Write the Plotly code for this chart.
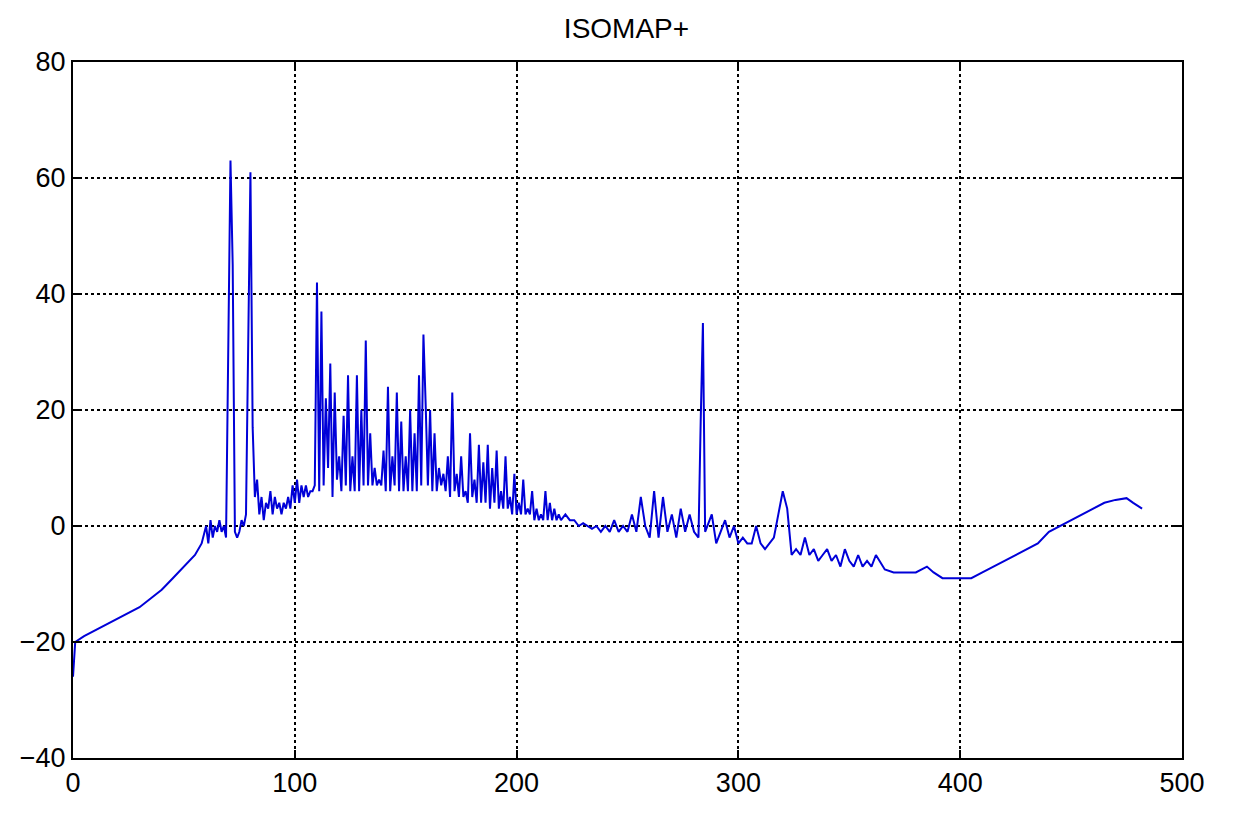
import plotly.graph_objects as go

xs = [0, 1, 5, 10, 15, 20, 25, 30, 35, 40, 45, 50, 55, 58,
      60, 61, 62, 63, 64, 65, 66, 67, 68, 69, 70, 71, 72, 73, 74, 75, 76, 77, 78, 79,
      80, 81, 82, 83, 84, 85, 86, 87, 88, 89, 90,
      91, 92, 93, 94, 95, 96, 97, 98, 99, 100, 101, 102, 103, 104, 105, 106, 107, 108, 109,
      110, 111, 112, 113, 114, 115, 116, 117, 118, 119,
      120, 121, 122, 123, 124, 125, 126, 127, 128, 129, 130, 131, 132, 133, 134, 135, 136, 137, 138, 139,
      140, 141, 142, 143, 144, 145, 146, 147, 148, 149, 150, 151, 152, 153, 154, 155, 156, 157, 158, 159,
      160, 161, 162, 163, 164, 165, 166, 167, 168, 169, 170, 171, 172, 173, 174, 175, 176, 177, 178, 179,
      180, 181, 182, 183, 184, 185, 186, 187, 188, 189, 190, 191, 192, 193, 194, 195, 196, 197, 198, 199,
      200, 201, 202, 203, 204, 205, 206, 207, 208, 209, 210, 211, 212, 213, 214, 215, 216, 217, 218, 219,
      220, 222, 224, 226, 228, 230, 232, 234, 236, 238, 240, 242, 244, 246, 248, 250, 252, 254, 256, 258,
      260, 262, 264, 266, 268, 270, 272, 274, 276, 278, 280, 282, 283, 284, 285, 286, 288, 290, 292, 294,
      296, 298, 300, 302, 304, 306, 308, 310, 312, 314, 316, 318, 320, 322, 324, 326, 328, 330, 332, 334,
      336, 338, 340, 342, 344, 346, 348, 350, 352, 354, 356, 358, 360, 362, 366, 370, 375, 380, 385, 388,
      392, 396, 400, 405, 410, 415, 420, 425, 430, 435, 440, 445, 450, 455, 460, 465, 470, 475, 478, 482]
ys = [-26, -20, -19, -18, -17, -16, -15, -14, -12.5, -11, -9, -7, -5, -3,
      0, -3, 1, -2, 0, -1, 1, -1, 0, -2, 32, 63, 45, -1, -2, -1, 1, 0, 2, 30,
      61, 17, 5, 8, 2, 5, 1, 4, 3, 6, 2,
      5, 3, 4, 2, 4, 3, 5, 3, 7, 4, 8, 4, 7, 5, 7, 5, 6, 6, 7,
      42, 6, 37, 7, 22, 10, 28, 5, 23, 8,
      12, 6, 19, 7, 26, 6, 12, 6, 26, 6, 20, 7, 32, 7, 16, 7, 10, 7, 8, 7,
      13, 6, 24, 6, 12, 7, 23, 6, 18, 6, 12, 6, 20, 6, 16, 6, 26, 7, 33, 21,
      7, 20, 6, 16, 6, 10, 7, 9, 6, 12, 5, 23, 6, 9, 5, 12, 5, 6, 4, 16,
      5, 8, 4, 14, 4, 11, 4, 14, 3, 10, 4, 13, 3, 6, 3, 12, 3, 5, 2, 9,
      2, 4, 2, 8, 2, 3, 2, 6, 1, 3, 1, 2, 1, 6, 1, 4, 1, 3, 1, 2,
      1, 2, 1, 1, 0, 0.5, 0, -0.5, 0, -1, 0, -1, 1, -1, 0, -1, 2, -1, 5, 0,
      -2, 6, -2, 5, -1, 2, -2, 3, -1, 2, -1, -2, 18, 35, -1, 0, 2, -3, -1, 1,
      -2, 0, -3, -2, -3, -3, 0, -3, -4, -3, -2, 2, 6, 3, -5, -4, -5, -2, -5, -4,
      -6, -5, -4, -6, -5, -7, -4, -6, -7, -5, -7, -6, -7, -5, -7.5, -8, -8, -8, -7, -8,
      -9, -9, -9, -9, -8, -7, -6, -5, -4, -3, -1, 0, 1, 2, 3, 4, 4.5, 4.8, 4, 3]

x_ticks = [0, 100, 200, 300, 400, 500]
y_ticks = [-40, -20, 0, 20, 40, 60, 80]

fig = go.Figure(go.Scatter(x=xs, y=ys, mode="lines",
                           line=dict(color="#0000d8", width=2)))

ax = dict(showline=True, linecolor="black", linewidth=2, mirror="ticks",
          ticks="inside", ticklen=8, tickcolor="black", tickwidth=2,
          showgrid=True, gridcolor="black", griddash="dot", gridwidth=1.5,
          zeroline=False, tickfont=dict(size=27, color="black"))

fig.update_layout(
    width=1237, height=817,
    paper_bgcolor="white", plot_bgcolor="white",
    font=dict(family="Liberation Sans, Arial, sans-serif"),
    title=dict(text="ISOMAP+", x=0.5, xanchor="center", y=0.975, yanchor="middle",
               font=dict(size=28, color="black")),
    margin=dict(l=55, r=63, t=54, b=67),
    showlegend=False,
    xaxis=dict(range=[0, 500], tickvals=x_ticks, **ax),
    yaxis=dict(range=[-40, 80], tickvals=y_ticks, **ax),
)

fig.write_html("out.html")
